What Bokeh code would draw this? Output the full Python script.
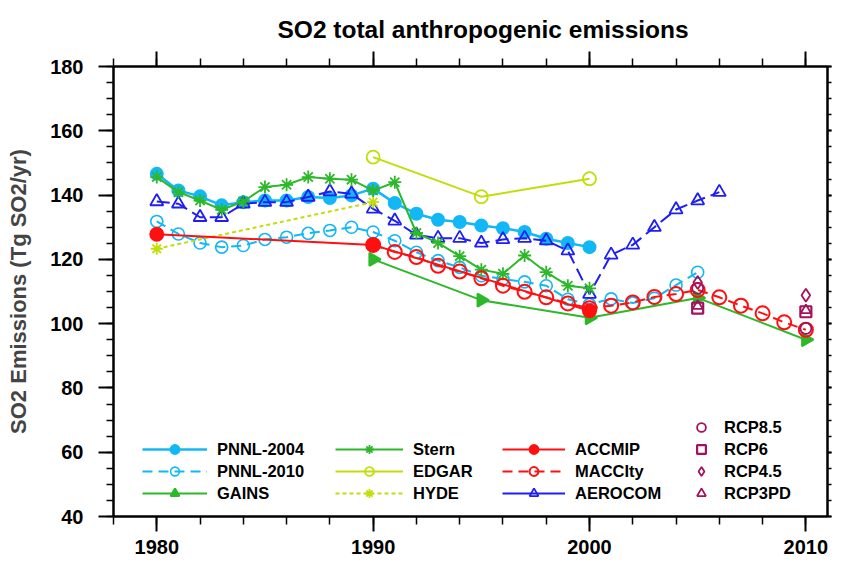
import math
import numpy as np
from bokeh.plotting import figure
from bokeh.models import (Range1d, SingleIntervalTicker, LinearAxis, Legend,
                          LegendItem, ColumnDataSource, CustomLabelingPolicy)
from bokeh.embed import file_html
from bokeh.resources import INLINE

# ---------------- data ----------------
pnnl2004_years = list(range(1980, 2001))
pnnl2004 = [146.6, 141.4, 139.6, 136.8, 137.8, 138.3, 138.3, 139.4, 139.1, 139.9,
            142.0, 137.5, 134.2, 132.3, 131.6, 130.5, 129.7, 128.5, 126.4, 125.1, 123.8]

pnnl2010_years = list(range(1980, 2006))
pnnl2010 = [131.8, 127.9, 125.1, 123.8, 124.3, 126.2, 126.9, 128.1, 129.0, 130.0,
            128.5, 125.8, 122.2, 119.6, 117.5, 114.9, 113.9, 113.0, 111.8, 107.6,
            106.0, 107.7, 106.4, 107.9, 112.0, 116.0]

gains_years = [1990, 1995, 2000, 2005, 2010]
gains = [120.0, 107.3, 101.8, 108.0, 95.0]

stern_years = list(range(1980, 2001))
stern = [145.6, 140.9, 138.3, 135.4, 138.0, 142.5, 143.2, 145.6, 145.1, 144.8,
         141.4, 144.0, 128.2, 125.1, 121.0, 116.8, 115.5, 121.2, 116.0, 111.8, 111.0]

edgar_years = [1990, 1995, 2000]
edgar = [151.8, 139.5, 145.1]

hyde_years = [1980, 1990]
hyde = [123.3, 137.8]

accmip_years = [1980, 1990, 2000]
accmip = [127.8, 124.5, 104.0]

maccity_years = list(range(1990, 2011))
maccity = [124.5, 122.3, 120.7, 118.0, 116.2, 114.1, 111.8, 109.9, 108.2, 106.3,
           104.8, 105.6, 106.6, 108.3, 109.2, 110.5, 108.2, 105.6, 103.2, 100.4, 98.1]

aerocom_years = list(range(1980, 2007))
aerocom = [138.0, 137.3, 133.1, 133.1, 137.3, 137.8, 137.8, 139.4, 141.1, 140.4,
           135.7, 132.0, 127.6, 126.6, 126.6, 125.1, 126.2, 126.6, 125.8, 122.7,
           109.2, 121.4, 124.5, 130.0, 135.5, 138.3, 140.9]

rcp_years = [2005, 2010]
rcp85 = [111.0, 98.5]
rcp6 = [104.8, 103.7]
rcp45 = [112.8, 108.8]
rcp3pd = [105.5, 104.2]

x_ticks_interval = 10
y_ticks_interval = 20

# ---------------- styling ----------------
FONT = "Liberation Sans"
C_CYAN = "#12B8F5"
C_GREEN = "#2DB82A"
C_LIME = "#C2DE0A"
C_RED = "#FF1010"
C_BLUE = "#1E1EF5"
C_RCP = "#A3125E"

p = figure(title="SO2 total anthropogenic emissions",
           width=837, height=556,
           min_border_left=113, min_border_right=10, min_border_top=66, min_border_bottom=40,
           x_range=Range1d(1978, 2011.0), y_range=Range1d(40, 180),
           x_axis_location=None, y_axis_location=None,
           output_backend="svg", toolbar_location=None)
p.xgrid.visible = False
p.ygrid.visible = False
p.outline_line_color = "black"
p.outline_line_width = 2
p.background_fill_color = "white"
p.border_fill_color = "white"

p.title.align = "left"
p.title.offset = 164
p.title.text_font = FONT
p.title.text_font_size = "24.5px"
p.title.text_font_style = "bold"
p.title.text_color = "black"


def make_axis(cls_interval, n_minor, tick_out, minor_out, labels=True):
    ax = LinearAxis(ticker=SingleIntervalTicker(interval=cls_interval, num_minor_ticks=n_minor))
    ax.axis_line_width = 2
    ax.axis_line_color = "black"
    ax.major_tick_line_width = 2
    ax.minor_tick_line_width = 1.5
    ax.major_tick_in = 0
    ax.minor_tick_in = 0
    ax.major_tick_out = tick_out
    ax.minor_tick_out = minor_out
    if labels:
        ax.major_label_text_font = FONT
        ax.major_label_text_font_size = "20px"
        ax.major_label_text_font_style = "bold"
        ax.major_label_text_color = "black"
    else:
        # tick marks only: no label is kept by the labeling policy
        ax.major_label_policy = CustomLabelingPolicy(code="return []")
        ax.major_label_text_font_size = "1px"
        ax.major_label_standoff = 0
    return ax


xb = make_axis(x_ticks_interval, 5, 15, 8)
xb.major_label_standoff = 8
p.add_layout(xb, "below")
xt = make_axis(x_ticks_interval, 5, 15, 8, labels=False)
p.add_layout(xt, "above")
yl = make_axis(y_ticks_interval, 4, 15, 7)
yl.major_label_standoff = 15
yl.axis_label = "SO2 Emissions (Tg SO2/yr)"
yl.axis_label_text_font = FONT
yl.axis_label_text_font_size = "22px"
yl.axis_label_text_font_style = "bold"
yl.axis_label_standoff = 16
p.add_layout(yl, "left")
yr = make_axis(y_ticks_interval, 4, 4, 4, labels=False)
p.add_layout(yr, "right")


def series(xs, ys, color, marker, size, dash="solid", fill=None, lw=2.0, mlw=2.0, angle=0.0):
    src = ColumnDataSource(dict(x=xs, y=ys))
    ln = p.line("x", "y", source=src, line_color=color, line_width=lw, line_dash=dash)
    sc = p.scatter("x", "y", source=src, marker=marker, size=size, angle=angle,
                   line_color=color, line_width=mlw,
                   fill_color=fill, fill_alpha=1.0 if fill else 0.0)
    return ln, sc


r_pnnl10 = series(pnnl2010_years, pnnl2010, C_CYAN, "circle", 12, dash="10 6", mlw=1.6)
r_pnnl04 = series(pnnl2004_years, pnnl2004, C_CYAN, "circle", 12, fill=C_CYAN, lw=2.5)
r_aero = series(aerocom_years, aerocom, C_BLUE, "triangle", 13, dash="13 6", mlw=1.8)
r_edgar = series(edgar_years, edgar, C_LIME, "circle", 13, mlw=1.8)
r_hyde = series(hyde_years, hyde, C_LIME, "asterisk", 12, dash="4 3", mlw=1.8)
r_gains = series(gains_years, gains, C_GREEN, "triangle", 13, fill=C_GREEN, angle=-math.pi / 2)
r_stern = series(stern_years, stern, C_GREEN, "asterisk", 13, mlw=1.8)
r_macc = series(maccity_years, maccity, C_RED, "circle", 14, dash="10 6", mlw=2.0)
r_accmip = series(accmip_years, accmip, C_RED, "circle", 13, fill=C_RED)

rcp_src = ColumnDataSource(dict(x=rcp_years, r85=rcp85, r6=rcp6, r45=rcp45, r3=rcp3pd))
s85 = p.scatter("x", "r85", source=rcp_src, marker="circle", size=11, line_color=C_RCP,
                line_width=1.8, fill_alpha=0)
s6 = p.scatter("x", "r6", source=rcp_src, marker="square", size=11, line_color=C_RCP,
               line_width=2.2, fill_alpha=0)
s45 = p.scatter("x", "r45", source=rcp_src, marker="diamond", size=13, line_color=C_RCP,
                line_width=1.8, fill_alpha=0)
s3 = p.scatter("x", "r3", source=rcp_src, marker="triangle", size=10, line_color=C_RCP,
               line_width=1.8, fill_alpha=0)

# solid blue line used only as the AEROCOM legend swatch
aero_swatch = p.line(x=np.array([np.nan, np.nan]), y=np.array([np.nan, np.nan]),
                     line_color=C_BLUE, line_width=2)


def make_legend(items, loc, gw):
    lg = Legend(items=items, location=loc, orientation="vertical",
                glyph_width=gw, glyph_height=22, label_height=22, spacing=0,
                padding=0, margin=0, label_standoff=10,
                label_text_font=FONT, label_text_font_size="16.5px",
                label_text_font_style="bold", label_text_color="black",
                background_fill_alpha=0, border_line_alpha=0)
    p.add_layout(lg)
    return lg


LEG_Y = 12
make_legend([LegendItem(label="PNNL-2004", renderers=list(r_pnnl04)),
             LegendItem(label="PNNL-2010", renderers=list(r_pnnl10)),
             LegendItem(label="GAINS", renderers=list(r_gains))], (29, LEG_Y), 65)
make_legend([LegendItem(label="Stern", renderers=list(r_stern)),
             LegendItem(label="EDGAR", renderers=list(r_edgar)),
             LegendItem(label="HYDE", renderers=list(r_hyde))], (222, LEG_Y), 68)
make_legend([LegendItem(label="ACCMIP", renderers=list(r_accmip)),
             LegendItem(label="MACCIty", renderers=list(r_macc)),
             LegendItem(label="AEROCOM", renderers=[aero_swatch, r_aero[1]])], (389, LEG_Y), 63)
make_legend([LegendItem(label="RCP8.5", renderers=[s85]),
             LegendItem(label="RCP6", renderers=[s6]),
             LegendItem(label="RCP4.5", renderers=[s45]),
             LegendItem(label="RCP3PD", renderers=[s3])], (575, LEG_Y), 26)

open("out.html", "w").write(file_html(p, INLINE))
